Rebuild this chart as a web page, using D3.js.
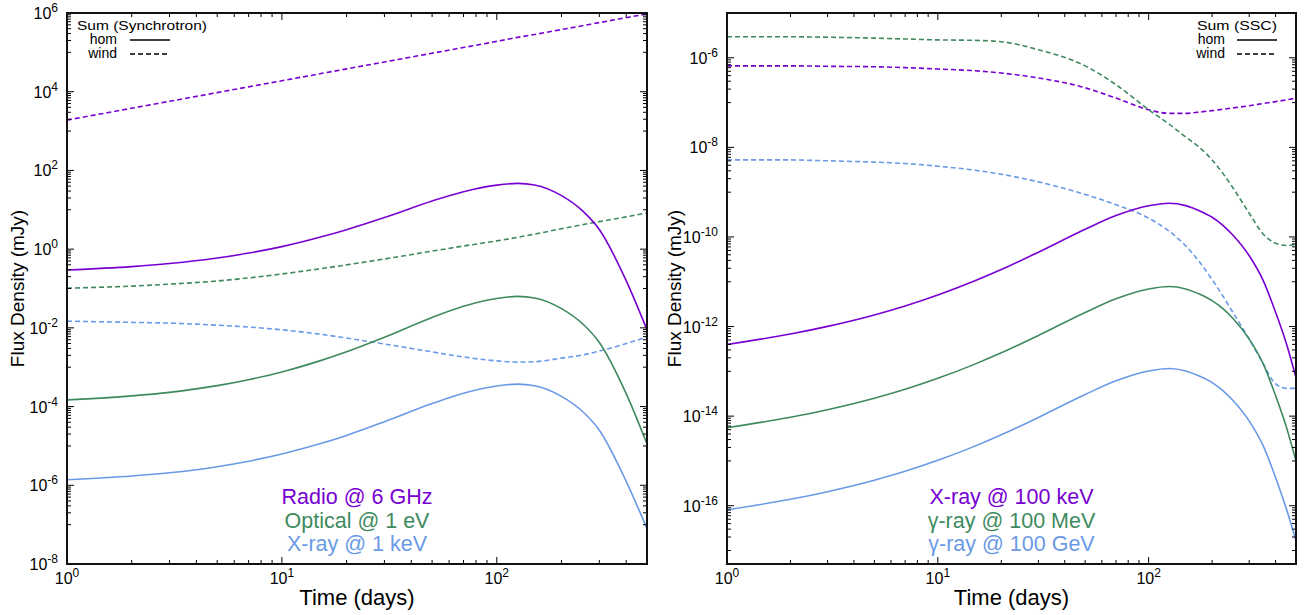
<!DOCTYPE html>
<html>
<head>
<meta charset="utf-8">
<script src="https://cdn.jsdelivr.net/npm/d3@7"></script>
<style>
  body { margin: 0; background: #fff; }
  text { font-family: "Liberation Sans", Arial, Helvetica, sans-serif; }
</style>
</head>
<body>
<svg id="chart" width="1310" height="615"></svg>
<script>
'use strict'

// ---- data ----
const tLeft = [1, 2, 3, 5, 7, 10, 15, 20, 30, 50, 70, 100, 125, 150, 200, 250, 300, 400, 500]
// synchrotron, homogeneous medium
const radioHom   = [0.295, 0.360, 0.430, 0.593, 0.794, 1.16, 2.00, 3.12, 6.34, 16.7, 28.8, 42.3, 46.9, 42.7, 22.9, 9.55, 3.16, 0.158, 0.0089]
const opticalHom = [1.48e-4, 1.87e-4, 2.30e-4, 3.40e-4, 4.82e-4, 7.60e-4, 1.45e-3, 2.47e-3, 5.78e-3, 1.84e-2, 3.54e-2, 5.58e-2, 6.31e-2, 5.74e-2, 3.08e-2, 1.29e-2, 4.26e-3, 2.13e-4, 1.12e-5]
const xrayHom    = [1.38e-6, 1.72e-6, 2.08e-6, 2.97e-6, 4.10e-6, 6.25e-6, 1.13e-5, 1.85e-5, 4.11e-5, 1.19e-4, 2.18e-4, 3.33e-4, 3.72e-4, 3.39e-4, 1.82e-4, 7.59e-5, 2.51e-5, 1.26e-6, 7.94e-8]
// synchrotron, wind medium
const radioWind   = [1.9e3, 3.8e3, 5.7e3, 9.5e3, 1.33e4, 1.9e4, 2.85e4, 3.8e4, 5.7e4, 9.5e4, 1.33e5, 1.9e5, 2.4e5, 2.85e5, 3.8e5, 4.75e5, 5.7e5, 7.6e5, 9.5e5]
const opticalWind = [0.102, 0.115, 0.129, 0.155, 0.186, 0.234, 0.316, 0.398, 0.562, 0.891, 1.20, 1.62, 2.00, 2.40, 3.31, 4.17, 5.01, 6.61, 8.32]
const xrayWind    = [1.48e-2, 1.38e-2, 1.32e-2, 1.17e-2, 1.05e-2, 8.91e-3, 6.92e-3, 5.50e-3, 3.89e-3, 2.45e-3, 1.82e-3, 1.45e-3, 1.35e-3, 1.38e-3, 1.70e-3, 2.04e-3, 2.57e-3, 3.98e-3, 5.89e-3]

const tRight = [1, 2, 3, 5, 7, 10, 15, 20, 30, 50, 70, 100, 125, 150, 175, 200, 225, 250, 300, 350, 400, 450, 500]
// SSC, homogeneous medium
const xrayHardHom = [3.98e-13, 6.82e-13, 1.01e-12, 1.82e-12, 2.88e-12, 5.05e-12, 1.05e-11, 1.87e-11, 4.58e-11, 1.49e-10, 3.01e-10, 4.99e-10, 5.68e-10, 5.01e-10, 3.80e-10, 2.75e-10, 1.82e-10, 1.12e-10, 3.80e-11, 1.05e-11, 2.09e-12, 4.17e-13, 7.24e-14]
const gammaMeVHom = [5.50e-15, 9.42e-15, 1.39e-14, 2.51e-14, 3.97e-14, 6.97e-14, 1.45e-13, 2.59e-13, 6.32e-13, 2.06e-12, 4.16e-12, 6.89e-12, 7.83e-12, 6.92e-12, 5.25e-12, 3.80e-12, 2.51e-12, 1.55e-12, 5.25e-13, 1.45e-13, 2.88e-14, 5.75e-15, 1.0e-15]
const gammaGeVHom = [8.13e-17, 1.39e-16, 2.06e-16, 3.72e-16, 5.87e-16, 1.03e-15, 2.14e-15, 3.83e-15, 9.35e-15, 3.04e-14, 6.15e-14, 1.02e-13, 1.16e-13, 1.02e-13, 7.76e-14, 5.62e-14, 3.72e-14, 2.29e-14, 7.76e-15, 2.14e-15, 4.27e-16, 8.51e-17, 1.66e-17]
// SSC, wind medium
const xrayHardWind = [6.61e-7, 6.61e-7, 6.46e-7, 6.31e-7, 6.03e-7, 5.62e-7, 5.13e-7, 4.57e-7, 3.55e-7, 2.14e-7, 1.26e-7, 6.92e-8, 5.75e-8, 5.75e-8, 6.17e-8, 6.61e-8, 7.08e-8, 7.59e-8, 8.51e-8, 9.55e-8, 1.05e-7, 1.15e-7, 1.26e-7]
const gammaMeVWind = [2.95e-6, 2.95e-6, 2.88e-6, 2.75e-6, 2.63e-6, 2.51e-6, 2.45e-6, 2.29e-6, 1.51e-6, 6.61e-7, 2.51e-7, 6.92e-8, 3.31e-8, 1.70e-8, 9.77e-9, 5.25e-9, 2.63e-9, 1.29e-9, 3.39e-10, 1.15e-10, 7.24e-11, 6.46e-11, 6.76e-11]
const gammaGeVWind = [5.25e-9, 5.25e-9, 5.01e-9, 4.68e-9, 4.37e-9, 3.80e-9, 3.09e-9, 2.51e-9, 1.70e-9, 8.91e-10, 5.25e-10, 2.63e-10, 1.35e-10, 6.31e-11, 2.69e-11, 1.12e-11, 4.79e-12, 2.14e-12, 5.25e-13, 1.45e-13, 5.25e-14, 4.17e-14, 4.17e-14]

const bandsLeft  = ['Radio @ 6 GHz', 'Optical @ 1 eV', 'X-ray @ 1 keV']
const bandsRight = ['X-ray @ 100 keV', 'γ-ray @ 100 MeV', 'γ-ray @ 100 GeV']
const colors = ['#7800d2', '#3e8a5e', '#6a9ae6']

const svg = d3.select('#chart')

function powLabel(sel, exp) {
  sel.append('tspan').text('10')
  sel.append('tspan').attr('dy', -7).attr('font-size', 12).text(exp)
}

function drawPanel(p) {
  const x = d3.scaleLog().domain([1, 500]).range([p.left, p.right])
  const y = d3.scaleLog().domain(p.yDomain).range([p.bottom, p.top])
  const g = svg.append('g')

  g.append('clipPath').attr('id', p.id + 'clip')
    .append('rect')
    .attr('x', p.left).attr('y', p.top)
    .attr('width', p.right - p.left).attr('height', p.bottom - p.top)

  const line = d3.line()
    .x(d => x(d[0]))
    .y(d => y(d[1]))
    .curve(d3.curveMonotoneX)

  const curves = g.append('g').attr('clip-path', 'url(#' + p.id + 'clip)')
  p.series.forEach(s => {
    curves.append('path')
      .datum(d3.zip(p.t, s.v))
      .attr('d', line)
      .attr('fill', 'none')
      .attr('stroke', colors[s.c])
      .attr('stroke-width', 1.6)
      .attr('stroke-dasharray', s.dash ? '5,3' : null)
  })

  // ticks, inward, mirrored on all four sides
  const ticks = g.append('g').attr('stroke', '#000').attr('stroke-width', 1)
  for (let d = 0; d <= 2; d++) {
    for (let k = 1; k <= 9; k++) {
      const v = k * Math.pow(10, d)
      if (v > 500) continue
      const len = k === 1 ? 7 : 4
      const xx = x(v)
      ticks.append('line').attr('x1', xx).attr('x2', xx).attr('y1', p.bottom).attr('y2', p.bottom - len)
      ticks.append('line').attr('x1', xx).attr('x2', xx).attr('y1', p.top).attr('y2', p.top + len)
    }
    g.append('text')
      .attr('x', x(Math.pow(10, d)))
      .attr('y', p.bottom + 20)
      .attr('text-anchor', 'middle')
      .attr('font-size', 16)
      .call(powLabel, String(d))
  }

  const lo = Math.floor(Math.log10(p.yDomain[0])), hi = Math.ceil(Math.log10(p.yDomain[1]))
  for (let e = lo; e <= hi; e++) {
    if (e % 2 !== 0) continue
    const marks = [[Math.pow(10, e), 7]]
    for (let k = 1; k <= 9; k++) marks.push([k * Math.pow(10, e - 1), 4])
    marks.forEach(([v, len]) => {
      if (v < p.yDomain[0] * 0.999 || v > p.yDomain[1] * 1.001) return
      const yy = y(v)
      ticks.append('line').attr('x1', p.left).attr('x2', p.left + len).attr('y1', yy).attr('y2', yy)
      ticks.append('line').attr('x1', p.right).attr('x2', p.right - len).attr('y1', yy).attr('y2', yy)
    })
    const v = Math.pow(10, e)
    if (v >= p.yDomain[0] && v <= p.yDomain[1] * 1.001) {
      g.append('text')
        .attr('x', p.left - 9)
        .attr('y', y(v) + 6)
        .attr('text-anchor', 'end')
        .attr('font-size', 16)
        .call(powLabel, String(e))
    }
  }

  // frame
  g.append('rect')
    .attr('x', p.left).attr('y', p.top)
    .attr('width', p.right - p.left).attr('height', p.bottom - p.top)
    .attr('fill', 'none').attr('stroke', '#111').attr('stroke-width', 2)

  // axis titles
  const cx = (p.left + p.right) / 2
  g.append('text')
    .attr('x', cx).attr('y', p.bottom + 41)
    .attr('text-anchor', 'middle').attr('font-size', 22)
    .text('Time (days)')
  g.append('text')
    .attr('transform', 'translate(' + p.yTitleX + ',' + ((p.top + p.bottom) / 2) + ') rotate(-90)')
    .attr('text-anchor', 'middle').attr('font-size', 19)
    .text('Flux Density (mJy)')

  // band labels
  p.bands.forEach((b, i) => {
    g.append('text')
      .attr('x', cx).attr('y', 504 + i * 23.5)
      .attr('text-anchor', 'middle').attr('font-size', 21.5)
      .attr('fill', colors[i])
      .text(b)
  })

  // key
  const k = p.key
  g.append('text')
    .attr('x', k.titleX).attr('y', 30)
    .attr('text-anchor', k.titleAnchor).attr('font-size', 13)
    .attr('textLength', k.titleLen).attr('lengthAdjust', 'spacingAndGlyphs')
    .text(k.title)
  ;[['hom', null, 44, 40], ['wind', '5,3', 58, 54]].forEach(([lab, dash, ty, ly]) => {
    g.append('text')
      .attr('x', k.textX).attr('y', ty)
      .attr('text-anchor', 'end').attr('font-size', 14)
      .text(lab)
    g.append('line')
      .attr('x1', k.lineX0).attr('x2', k.lineX1).attr('y1', ly).attr('y2', ly)
      .attr('stroke', '#000').attr('stroke-width', 1.5)
      .attr('stroke-dasharray', dash)
  })
}

drawPanel({
  id: 'syn', left: 67, right: 647, top: 13, bottom: 564,
  yDomain: [1e-8, 1e6], yTitleX: 24, t: tLeft, bands: bandsLeft,
  series: [
    { v: radioWind, c: 0, dash: true },
    { v: opticalWind, c: 1, dash: true },
    { v: xrayWind, c: 2, dash: true },
    { v: radioHom, c: 0 },
    { v: opticalHom, c: 1 },
    { v: xrayHom, c: 2 }
  ],
  key: { title: 'Sum (Synchrotron)', titleX: 77, titleAnchor: 'start', titleLen: 130, textX: 117, lineX0: 130, lineX1: 170 }
})

drawPanel({
  id: 'ssc', left: 727, right: 1296, top: 13, bottom: 564,
  yDomain: [5e-18, 1e-5], yTitleX: 681, t: tRight, bands: bandsRight,
  series: [
    { v: xrayHardWind, c: 0, dash: true },
    { v: gammaMeVWind, c: 1, dash: true },
    { v: gammaGeVWind, c: 2, dash: true },
    { v: xrayHardHom, c: 0 },
    { v: gammaMeVHom, c: 1 },
    { v: gammaGeVHom, c: 2 }
  ],
  key: { title: 'Sum (SSC)', titleX: 1277, titleAnchor: 'end', titleLen: 80, textX: 1225, lineX0: 1237, lineX1: 1277 }
})
</script>
</body>
</html>
